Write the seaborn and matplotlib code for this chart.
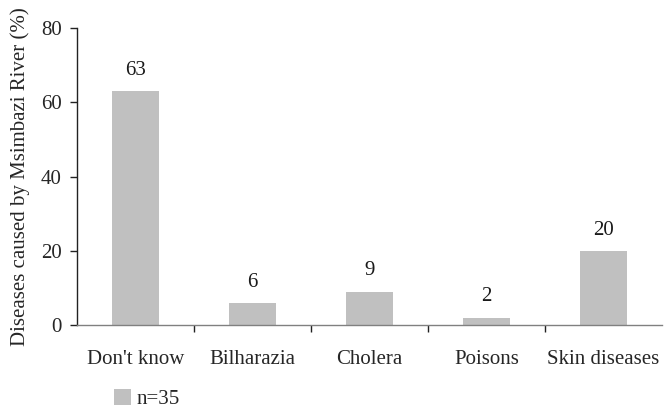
import matplotlib
matplotlib.use("Agg")
import matplotlib.pyplot as plt
import seaborn as sns
import pandas as pd
from matplotlib.patches import Patch
from matplotlib.ticker import FixedLocator

categories = ["Don't know", "Bilharazia", "Cholera", "Poisons", "Skin diseases"]
percent = [63, 6, 9, 2, 20]
yticks = [0, 20, 40, 60, 80]
legend_label = "n=35"

sns.set_theme(style="white")
plt.rcParams["font.family"] = ["Liberation Serif", "DejaVu Serif"]
plt.rcParams["font.size"] = 15

df = pd.DataFrame({"category": categories, "percent": percent})

fig = plt.figure(figsize=(6.65, 4.09), dpi=100)
W, H = 665, 409
ax = fig.add_axes([77 / W, (H - 325) / H, (662 - 77) / W, (325 - 28) / H])

sns.barplot(data=df, x="category", y="percent", color="#c0c0c0",
            saturation=1, width=0.4, ax=ax, edgecolor="none")

for i, v in enumerate(percent):
    ax.annotate(str(v), (i, v), xytext=(0, 8), textcoords="offset points",
                ha="center", va="bottom", fontsize=15, color="#1a1a1a")

ax.set_xlim(-0.5, len(categories) - 0.5)
ax.set_ylim(0, 80)
ax.set_yticks(yticks)
ax.set_ylabel("Diseases caused by Msimbazi River (%)", fontsize=15, labelpad=8)
ax.set_xlabel("")

for side in ("top", "right"):
    ax.spines[side].set_visible(False)
ax.spines["left"].set_color("#222222")
ax.spines["left"].set_linewidth(1.0)
ax.spines["bottom"].set_color("#808080")
ax.spines["bottom"].set_linewidth(1.0)

ax.tick_params(axis="y", which="major", length=5, width=1, color="#222222",
               direction="out", left=True, pad=6, labelsize=15)
ax.tick_params(axis="x", which="major", length=0, pad=18, labelsize=15)
ax.xaxis.set_minor_locator(FixedLocator([0.5, 1.5, 2.5, 3.5]))
ax.tick_params(axis="x", which="minor", length=5, width=1, color="#222222",
               direction="out", bottom=True)

handle = Patch(facecolor="#c0c0c0", edgecolor="none")
fig.legend([handle], [legend_label], loc="lower left",
           bbox_to_anchor=(114 / W, 0.0), frameon=False, fontsize=15,
           handlelength=0.8, handleheight=0.8, handletextpad=0.3,
           borderpad=0.0, borderaxespad=0.0)

fig.savefig("out.png", dpi=100)
